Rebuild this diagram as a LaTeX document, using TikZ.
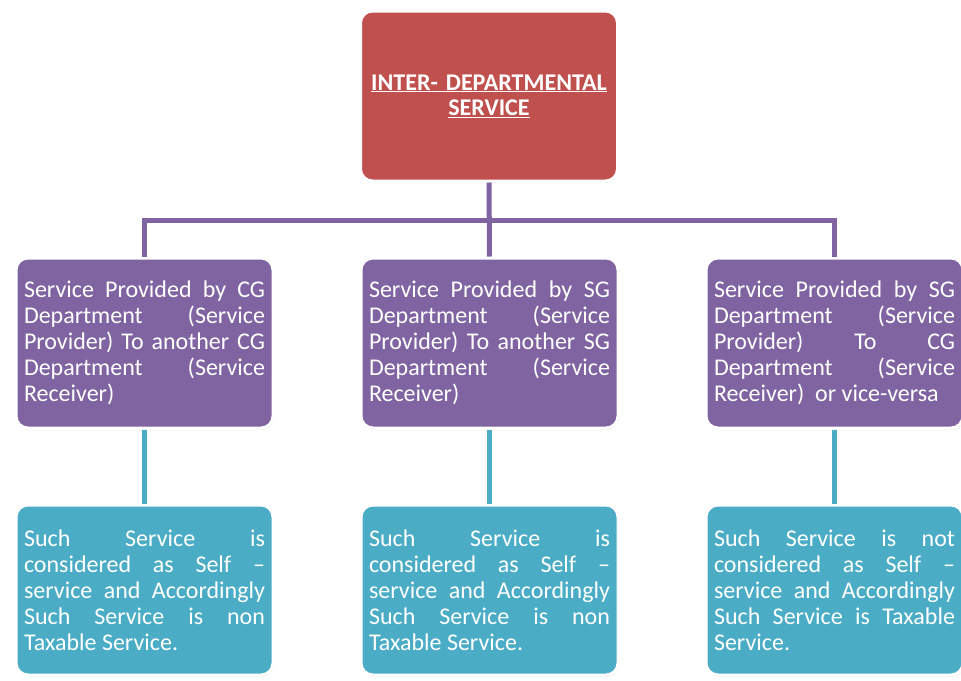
\documentclass[tikz,border=0pt]{standalone}
\usepackage{fontspec}
\setmainfont{Carlito}
\usetikzlibrary{shadows}

\definecolor{rootred}{RGB}{192,80,77}
\definecolor{provpurple}{RGB}{128,100,162}
\definecolor{resteal}{RGB}{75,172,198}

\begin{document}
\begin{tikzpicture}[x=1pt,y=-1pt,
  box/.style={rounded corners=12pt,draw=white,line width=3pt,
    minimum width=257pt,minimum height=170pt,text width=241pt,inner sep=0pt,
    text=white,align=justify,font=\fontsize{24}{26}\selectfont,
    drop shadow={opacity=0.12,shadow xshift=1pt,shadow yshift=-2pt}},
  rootbox/.style={box,fill=rootred,align=center,font=\fontsize{24}{25}\selectfont\bfseries},
  provbox/.style={box,fill=provpurple},
  resbox/.style={box,fill=resteal},
  provline/.style={draw=provpurple,line width=5pt},
  resline/.style={draw=resteal,line width=5pt}]

\fill[white] (0,0) rectangle (961,680);
\useasboundingbox (0,0) rectangle (961,680);

\def\rowprov{343}
\def\rowres{590}

% top
\node[rootbox] (root) at (489,96) {\underline{INTER- DEPARTMENTAL}\\\underline{SERVICE}};

% second row
\node[provbox] (prov1) at (144.5,\rowprov) {Service Provided by CG\linebreak Department (Service\linebreak Provider) To another CG\linebreak Department (Service\linebreak Receiver)};
\node[provbox] (prov2) at (489.5,\rowprov) {Service Provided by SG\linebreak Department (Service\linebreak Provider) To another SG\linebreak Department (Service\linebreak Receiver)};
\node[provbox] (prov3) at (834.5,\rowprov) {Service Provided by SG\linebreak Department (Service\linebreak Provider) To CG\linebreak Department (Service\linebreak Receiver)\ \ or vice-versa};

% third row
\node[resbox] (res1) at (144.5,\rowres) {Such Service is\linebreak considered as Self --\linebreak service and Accordingly\linebreak Such Service is non\linebreak Taxable Service.};
\node[resbox] (res2) at (489.5,\rowres) {Such Service is\linebreak considered as Self --\linebreak service and Accordingly\linebreak Such Service is non\linebreak Taxable Service.};
\node[resbox] (res3) at (834.5,\rowres) {Such Service is not\linebreak considered as Self --\linebreak service and Accordingly\linebreak Such Service is Taxable\linebreak Service.};

% connectors
\coordinate (bar) at (489,220);
\draw[provline] (root) -- (prov2);
\draw[provline] (prov1) -- (prov1 |- bar) -- (prov3 |- bar) -- (prov3);

\foreach \i in {1,2,3}
  \draw[resline] (prov\i) -- (res\i);

\end{tikzpicture}
\end{document}
